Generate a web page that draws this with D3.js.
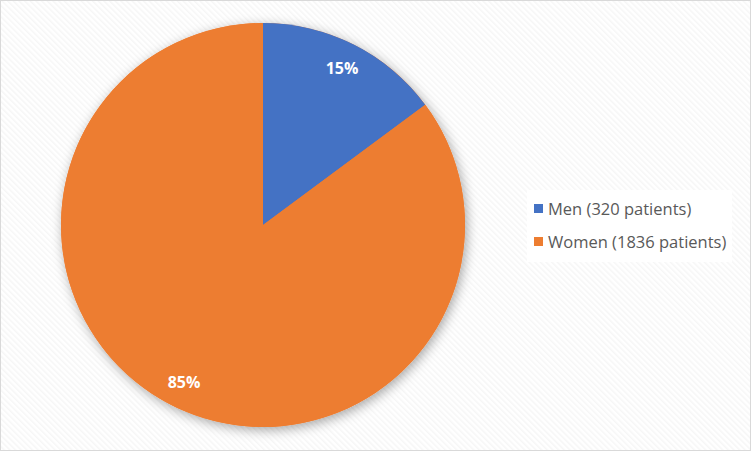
<!DOCTYPE html>
<html><head><meta charset="utf-8">
<script src="https://cdn.jsdelivr.net/npm/d3@7/dist/d3.min.js"></script>
<style>html,body{margin:0;padding:0;background:#fff;}svg{display:block;}</style>
</head><body>
<script>
const categories = ["Men (320 patients)", "Women (1836 patients)"];
const values = [320, 1836];
const pctLabels = ["15%", "85%"];
const colors = ["#4472C4", "#ED7D31"];

const W = 752, H = 452;
const svg = d3.select("body").append("svg").attr("width", W).attr("height", H);
const defs = svg.append("defs");
const pat = defs.append("pattern").attr("id","bgp").attr("patternUnits","userSpaceOnUse")
  .attr("width",4).attr("height",4).attr("patternTransform","rotate(-45)");
pat.append("rect").attr("width",4).attr("height",4).attr("fill","#ffffff");
pat.append("rect").attr("width",1.5).attr("height",4).attr("fill","#f6f6f6");
const f = defs.append("filter").attr("id","sh").attr("x","-20%").attr("y","-20%").attr("width","140%").attr("height","140%");
f.append("feDropShadow").attr("dx",2).attr("dy",3).attr("stdDeviation",6).attr("flood-color","#000").attr("flood-opacity",0.35);

svg.append("rect").attr("x",0.5).attr("y",0.5).attr("width",W-2).attr("height",H-2)
  .attr("fill","url(#bgp)").attr("stroke","#d9d9d9").attr("stroke-width",1);

const cx = 263, cy = 225, r = 202;
const pie = d3.pie().sort(null).value(d => d)(values);
const arc = d3.arc().innerRadius(0).outerRadius(r);
const g = svg.append("g").attr("transform", `translate(${cx},${cy})`);
g.append("circle").attr("r", r).attr("fill","#ED7D31").attr("filter","url(#sh)");
g.selectAll("path.s").data(pie).join("path").attr("class","s")
  .attr("d", arc).attr("fill", (d,i) => colors[i]);

const labelArc = d3.arc().innerRadius(r*0.87).outerRadius(r*0.87);
g.selectAll("text.l").data(pie).join("text").attr("class","l")
  .attr("transform", d => `translate(${labelArc.centroid(d)})`)
  .attr("text-anchor","middle").attr("dy","0.35em")
  .attr("fill","#fff").attr("font-family","'Open Sans', sans-serif")
  .attr("font-weight","bold").attr("font-size","16px")
  .text((d,i) => pctLabels[i]);

const lg = svg.append("g");
lg.append("rect").attr("x",527).attr("y",190).attr("width",205).attr("height",72).attr("fill","#fff");
categories.forEach((c,i) => {
  const y = 209 + i*33;
  lg.append("rect").attr("x",534).attr("y",y-5).attr("width",9).attr("height",9).attr("fill",colors[i]);
  lg.append("text").attr("x",548).attr("y",y).attr("dy","0.35em")
    .attr("font-family","'Open Sans', sans-serif").attr("font-size","16.5px").attr("fill","#595959").text(c);
});
</script>
</body></html>
